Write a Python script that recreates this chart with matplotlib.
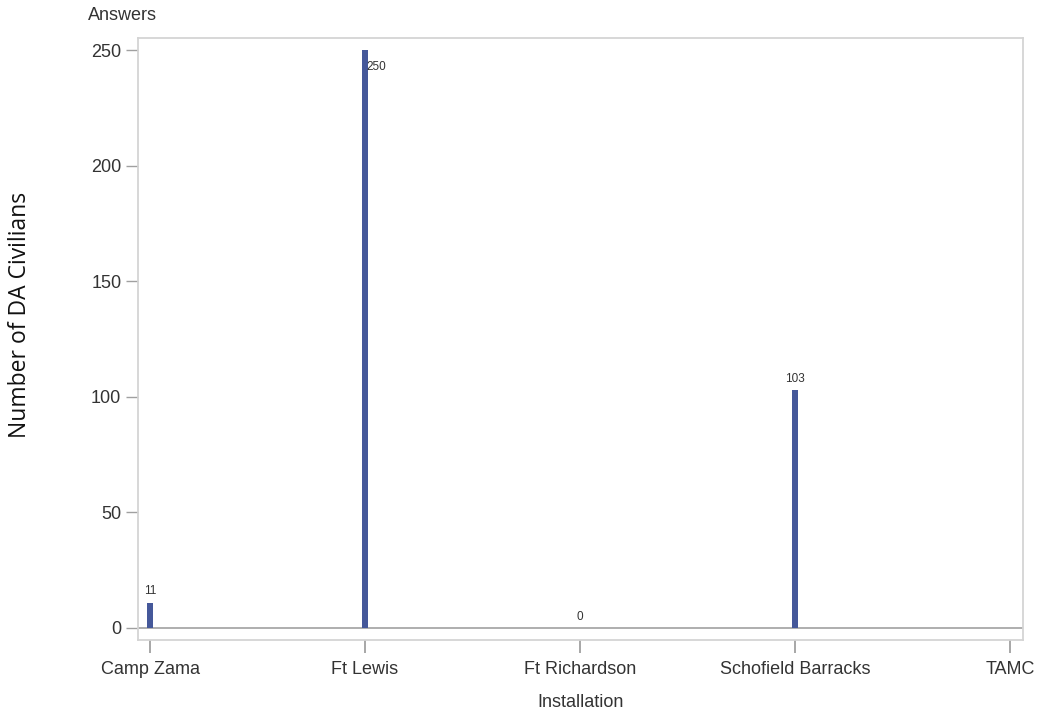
import numpy as np
import matplotlib
matplotlib.use("Agg")
import matplotlib.pyplot as plt

# data
installations = ["Camp Zama", "Ft Lewis", "Ft Richardson", "Schofield Barracks", "TAMC"]
answers = [11, 250, 0, 103, np.nan]   # TAMC has no bar / no label

BAR = "#45589A"
FRAME = "#D4D4D4"
TXT = "#333333"

plt.rcParams["font.family"] = ["Liberation Sans", "DejaVu Sans"]

fig = plt.figure(figsize=(10.39, 7.13), dpi=100)
ax = fig.add_axes([0.1328, 0.1024, 0.8518, 0.8443])

x = np.arange(len(installations))
vals = np.array(answers, dtype=float)
ax.bar(x, np.nan_to_num(vals), width=0.028, color=BAR, zorder=3)

ax.set_xlim(-0.056, 4.06)
ax.set_ylim(-5.2, 255.2)
ax.axhline(0, color="#A8A8A8", lw=1.3, zorder=2)

# value labels
for xi, v in zip(x, vals):
    if np.isnan(v):
        continue
    if v > 240:
        ax.annotate(f"{int(v)}", (xi, v), xytext=(1, -12), textcoords="offset points",
                    ha="left", va="center", fontsize=8.5, color=TXT, zorder=4)
    else:
        ax.annotate(f"{int(v)}", (xi, v), xytext=(0, 8), textcoords="offset points",
                    ha="center", va="center", fontsize=8.5, color=TXT, zorder=4)

ax.set_xticks(x)
ax.set_xticklabels(installations, fontsize=13, color=TXT)
ax.set_yticks([0, 50, 100, 150, 200, 250])
ax.tick_params(axis="y", labelsize=13, labelcolor=TXT, color="#A0A0A0",
               length=9, width=1, pad=3)
ax.tick_params(axis="x", color="#A0A0A0", length=9, width=1.3, pad=6)

for s in ax.spines.values():
    s.set_color(FRAME)
    s.set_linewidth(1.3)

ax.set_xlabel("Installation", fontsize=13, color=TXT, labelpad=12)
fig.text(0.0197, 0.558, "Number of DA Civilians", rotation=90, ha="center", va="center",
         fontsize=16.5, color="#111111", family=["Open Sans", "DejaVu Sans"])
fig.text(0.0847, 0.978, "Answers", ha="left", va="center", fontsize=13, color=TXT)

fig.savefig("out.png", dpi=100, facecolor="white")
